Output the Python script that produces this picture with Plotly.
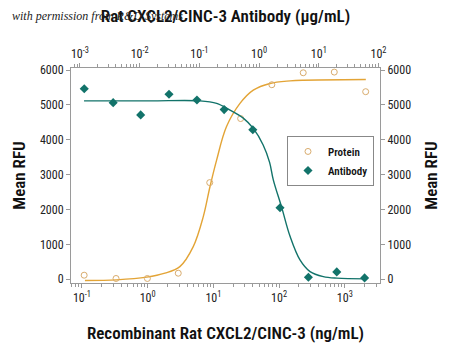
import plotly.graph_objects as go

# ---- data ----
protein_conc = [0.108, 0.33, 0.99, 2.92, 8.8, 26, 77.6, 233, 692, 2080]          # ng/mL
protein_rfu = [114, 20, 20, 171, 2771, 4609, 5580, 5923, 5943, 5380]
antibody_conc = [0.00118, 0.0036, 0.0104, 0.031, 0.091, 0.26, 0.785, 2.24, 6.7, 20, 58.5]  # ug/mL
antibody_rfu = [5466, 5066, 4714, 5306, 5143, 4866, 4286, 2049, 57, 209, 37]

# fitted curves
protein_fit_x = [0.111, 0.337, 0.966, 1.83, 3.09, 4.94, 7.02, 8.87, 11.2, 15.8, 25.4, 40.5, 72.8, 147, 233, 2090]
protein_fit_y = [-40, -20, 57, 172, 361, 934, 1794, 2653, 3418, 4372, 5043, 5424, 5616, 5690, 5710, 5730]
antibody_fit_x = [0.00117, 0.0149, 0.102, 0.195, 0.326, 0.543, 0.80, 1.17, 1.50, 1.73, 2.39, 3.30, 4.84, 7.13, 11.9, 20, 61.7]
antibody_fit_y = [5117, 5117, 5117, 5043, 4851, 4622, 4327, 3850, 3350, 2850, 2060, 1230, 553, 218, 74, 29, 9]

bottom_tickvals = [0.1, 1, 10, 100, 1000]
bottom_ticktext = ["10<sup>-1</sup>", "10<sup>0</sup>", "10<sup>1</sup>", "10<sup>2</sup>", "10<sup>3</sup>"]
top_tickvals = [0.001, 0.01, 0.1, 1, 10, 100]
top_ticktext = ["10<sup>-3</sup>", "10<sup>-2</sup>", "10<sup>-1</sup>", "10<sup>0</sup>", "10<sup>1</sup>", "10<sup>2</sup>"]
y_tickvals = [0, 1000, 2000, 3000, 4000, 5000, 6000]

PROT_LINE = "#E3A436"
PROT_MARK = "#D9AC6E"
AB = "#12736A"
FONT = "Roboto Condensed, Liberation Sans Narrow, Roboto, sans-serif"
AXC = "#9a9a9a"

fig = go.Figure()
fig.add_trace(go.Scatter(x=protein_fit_x, y=protein_fit_y, mode="lines", line=dict(color=PROT_LINE, width=1.4, shape="spline"),
                         showlegend=False, hoverinfo="skip", xaxis="x", yaxis="y"))
fig.add_trace(go.Scatter(x=antibody_fit_x, y=antibody_fit_y, mode="lines", line=dict(color=AB, width=1.4, shape="spline"),
                         showlegend=False, hoverinfo="skip", xaxis="x2", yaxis="y2"))
fig.add_trace(go.Scatter(x=protein_conc, y=protein_rfu, mode="markers", name="Protein",
                         marker=dict(symbol="circle-open", size=6, color=PROT_MARK, line=dict(width=1, color=PROT_MARK)),
                         xaxis="x", yaxis="y"))
fig.add_trace(go.Scatter(x=antibody_conc, y=antibody_rfu, mode="markers", name="Antibody",
                         marker=dict(symbol="diamond", size=7, color=AB, line=dict(width=0)),
                         xaxis="x2", yaxis="y2"))

yrange = [-110, 6060]
tickfont = dict(family=FONT, size=12, color="#222")
titlefont = dict(family=FONT, size=17, color="#111", weight=600)
common_y = dict(range=yrange, tickvals=y_tickvals, ticks="outside", ticklen=4, tickcolor=AXC, automargin=False,
                showline=True, linecolor=AXC, linewidth=1, showgrid=False, zeroline=False, tickfont=tickfont)
common_x = dict(type="log", ticks="outside", ticklen=4, tickcolor=AXC, showline=True, linecolor=AXC, linewidth=1,
                showgrid=False, zeroline=False, tickfont=tickfont, automargin=False,
                minor=dict(ticks="outside", ticklen=3, tickcolor=AXC, dtick="D1", showgrid=False))

fig.update_layout(
    width=450, height=347,
    margin=dict(l=71, r=70, t=68, b=64),
    paper_bgcolor="white", plot_bgcolor="white",
    font=dict(family=FONT, color="#111"),
    xaxis=dict(**common_x, range=[-1.167, 3.536], tickvals=bottom_tickvals, ticktext=bottom_ticktext, anchor="y",
               title=dict(text="Recombinant Rat CXCL2/CINC-3 (ng/mL)", font=titlefont, standoff=22)),
    xaxis2=dict(**common_x, range=[-3.15, 2.025], tickvals=top_tickvals, ticktext=top_ticktext,
                overlaying="x", side="top", anchor="y2",
                title=dict(text="Rat CXCL2/CINC-3 Antibody (µg/mL)", font=titlefont, standoff=18)),
    yaxis=dict(**common_y, side="left", anchor="x",
               title=dict(text="Mean RFU", font=titlefont, standoff=9)),
    yaxis2=dict(**common_y, side="right", overlaying="y", anchor="x2",
                title=dict(text="Mean RFU", font=titlefont, standoff=14)),
    legend=dict(x=0.699, y=0.684, xanchor="left", yanchor="top", bordercolor="#888", borderwidth=1,
                bgcolor="white", font=dict(family=FONT, size=11, color="#111", weight=600), tracegroupgap=0),
    annotations=[dict(text="<i>with permission from R&amp;D Systems</i>", xref="paper", yref="paper",
                      x=-0.198, y=1.242, xanchor="left", yanchor="middle", showarrow=False,
                      font=dict(family="Liberation Serif, serif", size=12, color="#222"))],
)

fig.write_html("out.html")
